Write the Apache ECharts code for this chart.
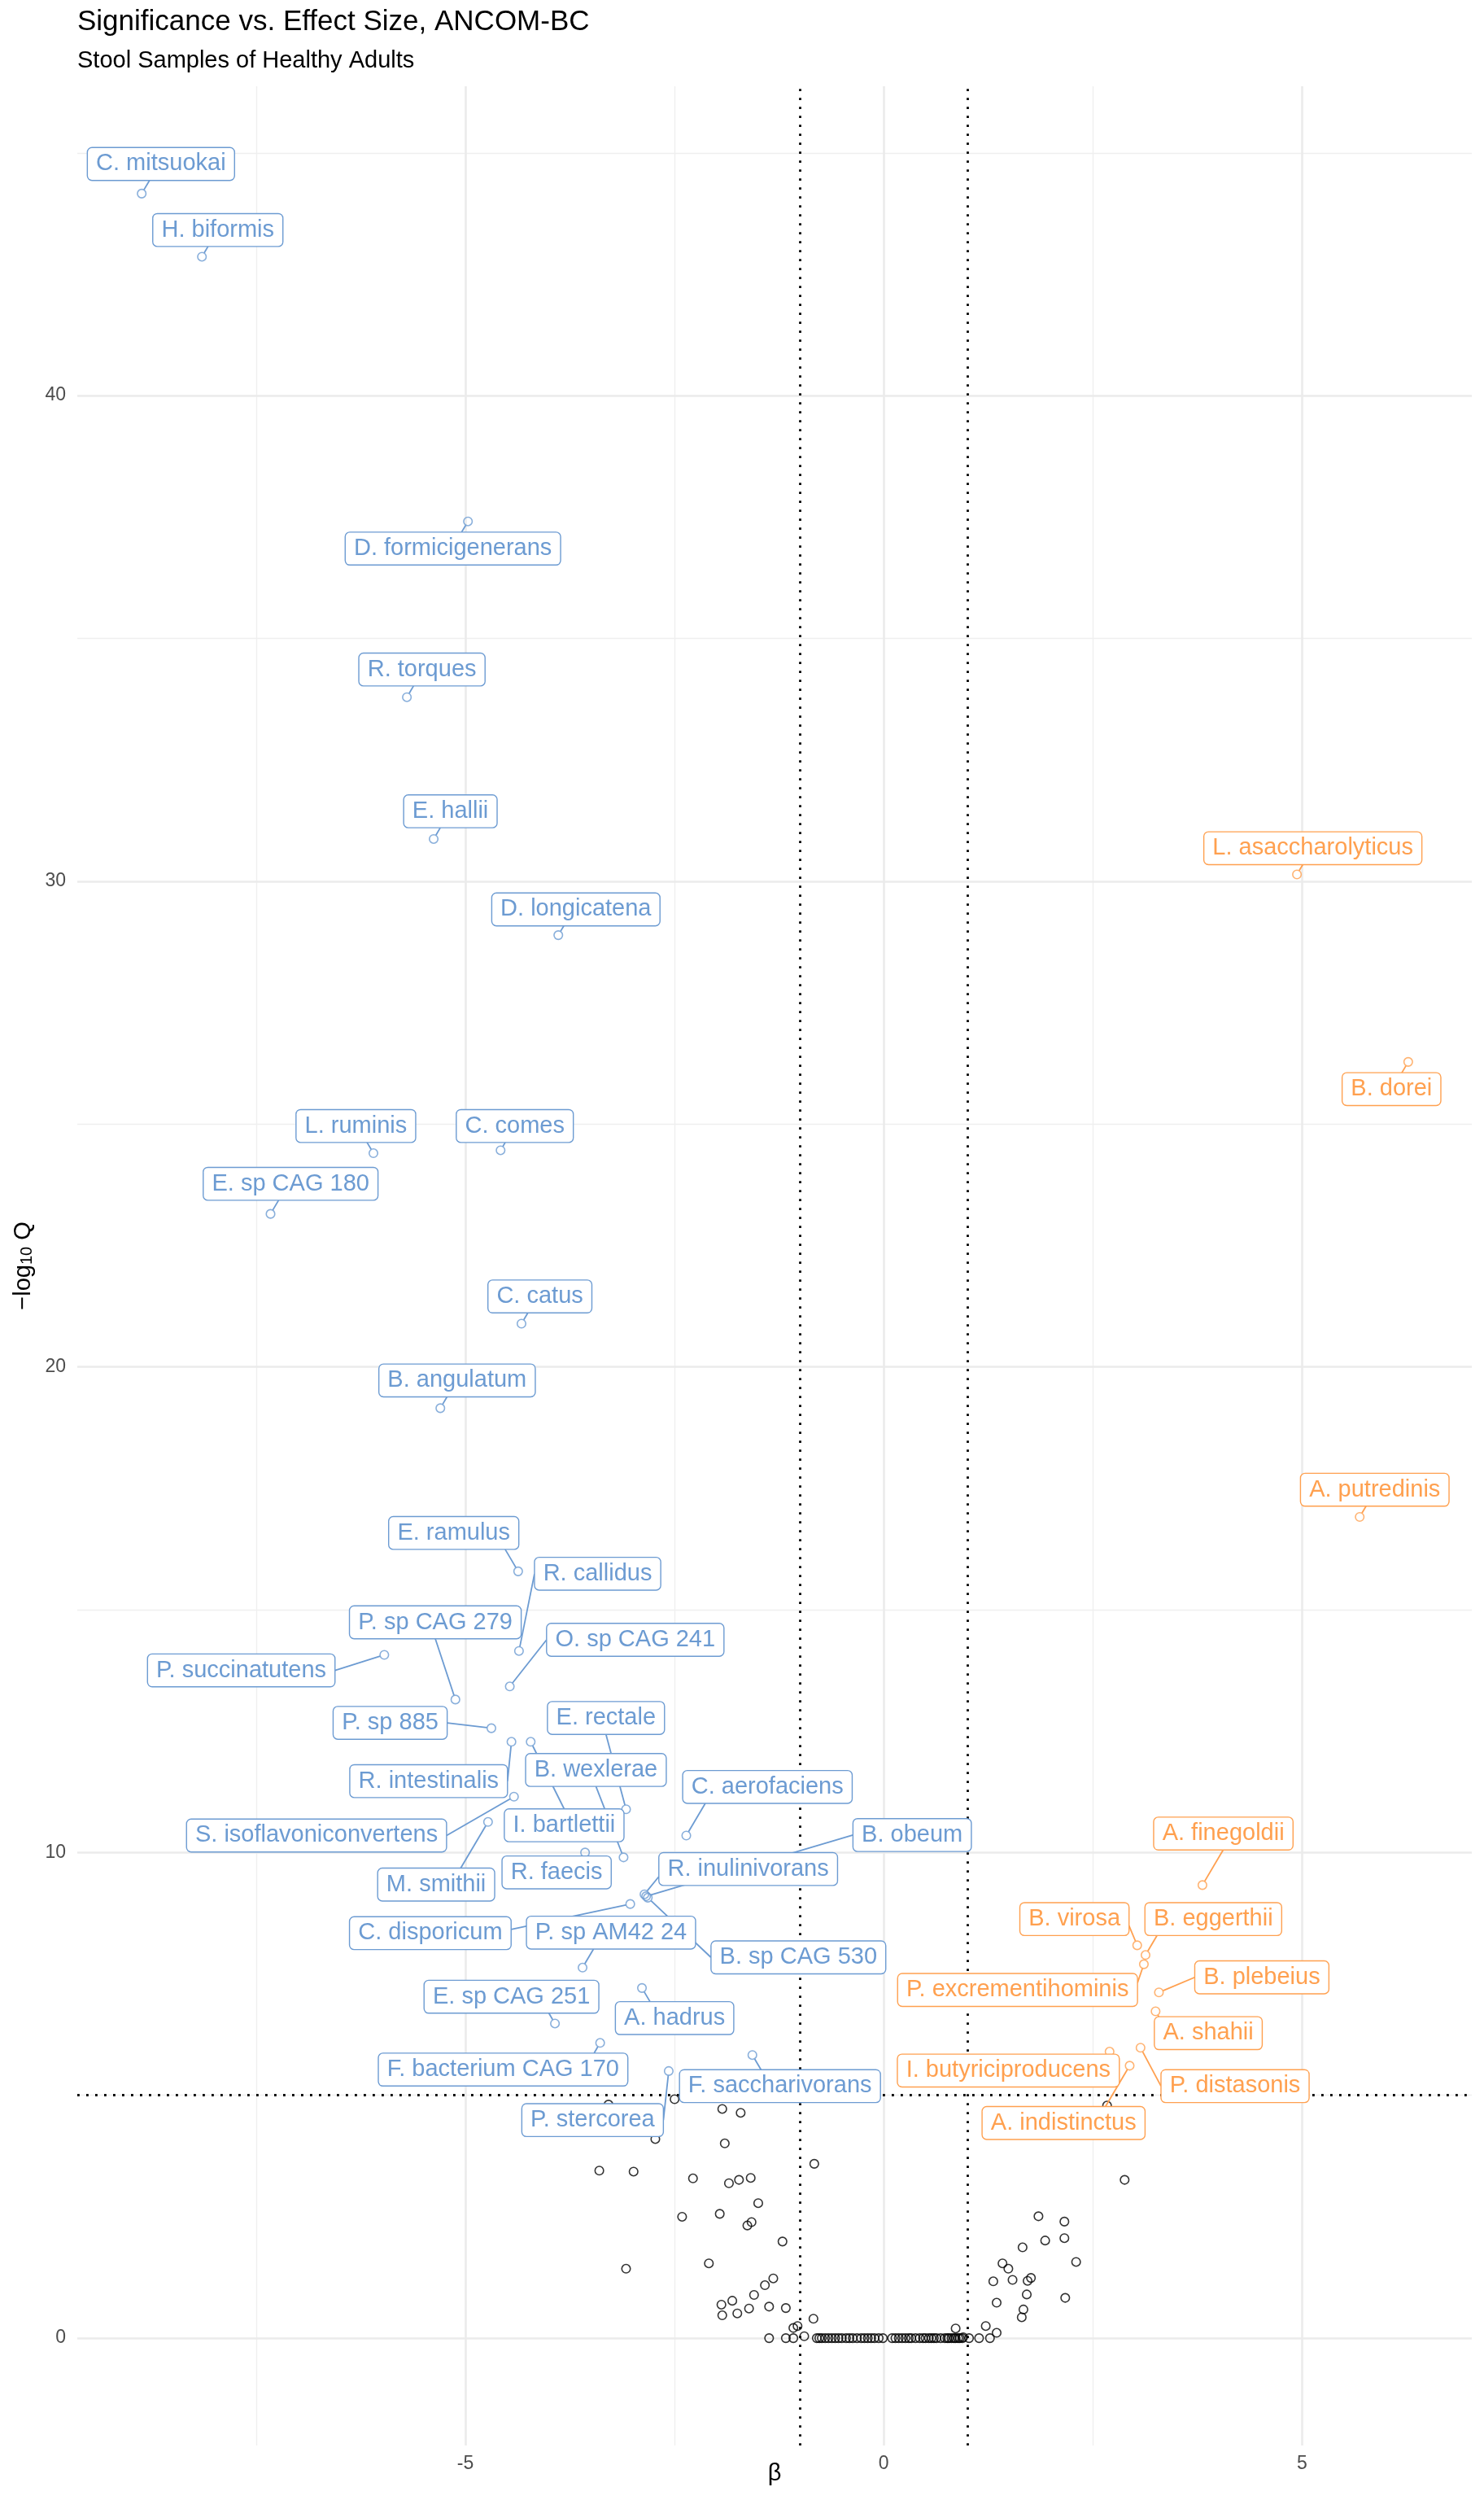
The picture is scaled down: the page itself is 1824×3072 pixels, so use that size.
<!DOCTYPE html>
<html>
<head>
<meta charset="utf-8">
<title>Significance vs. Effect Size, ANCOM-BC</title>
<script src="https://cdn.jsdelivr.net/npm/echarts@6/dist/echarts.min.js"></script>
<style>
  html, body { margin: 0; padding: 0; background: #fff; }
  #chart { width: 1824px; height: 3072px; }
</style>
</head>
<body>
<div id="chart"></div>
<script>
  const FONT = '"Liberation Sans", Arial, Helvetica, sans-serif';
  const BLUE = "#6C9BD2";
  const ORANGE = "#FFA04F";

  // axis breaks
  const betaTicks = [-5, 0, 5];
  const betaMinor = [-7.5, -2.5, 2.5];
  const qTicks = [0, 10, 20, 30, 40];
  const qMinor = [5, 15, 25, 35, 45];
  const betaCut = [-1, 1];
  const qCut = 5;

  // significant, lower abundance (blue)
  const blueNames = [
    "C. mitsuokai", "H. biformis", "D. formicigenerans", "R. torques", "E. hallii",
    "D. longicatena", "L. ruminis", "C. comes", "E. sp CAG 180", "C. catus",
    "B. angulatum", "E. ramulus", "R. callidus", "P. sp CAG 279", "O. sp CAG 241",
    "P. succinatutens", "P. sp 885", "E. rectale", "R. intestinalis", "B. wexlerae",
    "S. isoflavoniconvertens", "I. bartlettii", "C. aerofaciens", "M. smithii", "R. faecis",
    "R. inulinivorans", "B. obeum", "C. disporicum", "P. sp AM42 24", "B. sp CAG 530",
    "E. sp CAG 251", "A. hadrus", "F. bacterium CAG 170", "F. saccharivorans", "P. stercorea"
  ];
  const blueBeta = [
    -8.87, -8.15, -4.97, -5.70, -5.38,
    -3.89, -6.10, -4.58, -7.33, -4.33,
    -5.30, -4.37, -4.36, -5.12, -4.47,
    -5.97, -4.69, -3.08, -4.45, -3.11,
    -4.42, -4.22, -2.36, -4.73, -3.57,
    -2.86, -2.84, -3.03, -3.60, -2.82,
    -3.93, -2.89, -3.39, -1.57, -2.57
  ];
  const blueQ = [
    44.16, 42.86, 37.41, 33.79, 30.87,
    28.89, 24.40, 24.46, 23.15, 20.89,
    19.15, 15.79, 14.15, 13.15, 13.42,
    14.07, 12.56, 10.89, 12.28, 9.90,
    11.15, 12.28, 10.35, 10.63, 10.00,
    9.14, 9.10, 8.94, 7.63, 9.07,
    6.48, 7.21, 6.08, 5.83, 5.50
  ];

  // significant, higher abundance (orange)
  const orangeNames = [
    "L. asaccharolyticus", "B. dorei", "A. putredinis", "A. finegoldii", "B. virosa",
    "B. eggerthii", "P. excrementihominis", "B. plebeius", "A. shahii", "I. butyriciproducens",
    "P. distasonis", "A. indistinctus"
  ];
  const orangeBeta = [4.94, 6.27, 5.69, 3.81, 3.03, 3.13, 3.11, 3.29, 3.25, 2.70, 3.07, 2.94];
  const orangeQ = [30.14, 26.28, 16.91, 9.33, 8.09, 7.89, 7.70, 7.12, 6.73, 5.90, 5.98, 5.61];

  // not significant (black)
  const otherBeta = [
    -3.29, -2.50, -1.93, -1.71, -2.73, -1.90, -0.83, -3.40, -2.99, -2.28,
    -1.85, -1.73, -1.59, -1.50, -2.41, -1.96, -1.58, -1.63, -1.21, -3.08,
    -2.09, -1.32, -1.42, -1.55, -1.94, -1.81, -1.61, -1.37, -1.17, -1.93,
    -1.75, -0.84, -1.08, -1.03, -1.37, -1.17, -1.08, -0.95,
    2.67, 2.88, 1.85, 2.16, 1.93, 2.16, 1.66, 2.30, 1.42, 1.49,
    1.31, 1.54, 1.72, 1.76, 1.71, 2.17, 1.35, 1.67, 1.65, 1.22,
    1.35, 0.86, 0.95, 1.02, 1.14, 1.27,
    -0.80, -0.77, -0.74, -0.70, -0.66, -0.62, -0.58, -0.54, -0.50, -0.45,
    -0.41, -0.37, -0.32, -0.27, -0.23, -0.19, -0.15, -0.11, -0.06, -0.01,
    0.10, 0.14, 0.18, 0.22, 0.26, 0.30, 0.33, 0.38, 0.43, 0.47,
    0.50, 0.54, 0.57, 0.60, 0.63, 0.68, 0.73, 0.76, 0.78, 0.81,
    0.84, 0.86, 0.89, 0.91, 0.94
  ];
  const otherQ = [
    4.81, 4.92, 4.72, 4.64, 4.10, 4.01, 3.59, 3.45, 3.43, 3.29,
    3.19, 3.26, 3.30, 2.78, 2.50, 2.56, 2.39, 2.32, 1.99, 1.43,
    1.54, 1.23, 1.09, 0.89, 0.69, 0.77, 0.61, 0.65, 0.62, 0.47,
    0.51, 0.40, 0.21, 0.25, 0, 0, 0, 0.04,
    4.79, 3.26, 2.51, 2.40, 2.01, 2.06, 1.87, 1.57, 1.54, 1.43,
    1.17, 1.20, 1.18, 1.24, 0.90, 0.83, 0.73, 0.59, 0.43, 0.25,
    0.11, 0.20, 0.02, 0, 0, 0,
    0, 0, 0, 0, 0, 0, 0, 0, 0, 0,
    0, 0, 0, 0, 0, 0, 0, 0, 0, 0,
    0, 0, 0, 0, 0, 0, 0, 0, 0, 0,
    0, 0, 0, 0, 0, 0, 0, 0, 0, 0,
    0, 0, 0, 0, 0
  ];

  // where the repelled labels sit (label centre, in axis units)
  const blueLabelAt = [
    [-8.64, 44.77], [-7.96, 43.41], [-5.15, 36.85], [-5.52, 34.36], [-5.18, 31.44],
    [-3.68, 29.42], [-6.31, 24.96], [-4.41, 24.96], [-7.09, 23.77], [-4.11, 21.45],
    [-5.10, 19.72], [-5.14, 16.58], [-3.42, 15.74], [-5.36, 14.74], [-2.97, 14.38],
    [-7.68, 13.75], [-5.90, 12.67], [-3.32, 12.77], [-5.44, 11.47], [-3.44, 11.70],
    [-6.78, 10.35], [-3.82, 10.56], [-1.39, 11.35], [-5.35, 9.34], [-3.91, 9.59],
    [-1.62, 9.66], [0.34, 10.36], [-5.42, 8.34], [-3.26, 8.35], [-1.02, 7.84],
    [-4.45, 7.03], [-2.50, 6.59], [-4.55, 5.53], [-1.24, 5.19], [-3.48, 4.49]
  ];
  const orangeLabelAt = [
    [5.13, 30.68], [6.07, 25.72], [5.87, 17.47], [4.06, 10.39], [2.28, 8.63],
    [3.94, 8.63], [1.60, 7.17], [4.52, 7.43], [3.88, 6.28], [1.49, 5.51],
    [4.20, 5.19], [2.15, 4.43]
  ];

  const xMin = -9.64, xMax = 7.03;
  const yMin = -2.21, yMax = 46.37;

  const LABEL_SIZE = 29;
  const LABEL_PAD = [5, 10, 5, 10];
  const LABEL_BORDER = 1.4;
  const POINT_R = 5.5;

  const measureCtx = document.createElement("canvas").getContext("2d");
  measureCtx.font = LABEL_SIZE + "px " + FONT;

  function boxSize(name) {
    return [
      measureCtx.measureText(name).width + LABEL_PAD[1] + LABEL_PAD[3] + LABEL_BORDER,
      LABEL_SIZE + LABEL_PAD[0] + LABEL_PAD[2] + LABEL_BORDER
    ];
  }

  // where a repel segment meets its box: nearest edge, nudged toward the middle
  function segmentEnd(p, c, size, panel) {
    const left = c[0] - size[0] / 2;
    const right = c[0] + size[0] / 2;
    const top = c[1] - size[1] / 2;
    const bottom = c[1] + size[1] / 2;
    let ox = p[0], oy = p[1], side = 0, edge = 0;
    if (p[0] < left) { ox = left; side = 1; } else if (p[0] > right) { ox = right; side = 1; }
    if (p[1] < top) { oy = top; edge = 1; } else if (p[1] > bottom) { oy = bottom; edge = 1; }
    if (!side && !edge) return null;
    if (edge && !side) {
      const d = (Math.abs(p[1] - oy) / panel.height) * panel.width;
      const shift = c[0] - ox;
      ox += Math.sign(shift) * Math.min(Math.abs(shift), d);
    } else if (side && !edge) {
      const d = (Math.abs(p[0] - ox) / panel.width) * panel.height;
      const shift = c[1] - oy;
      oy += Math.sign(shift) * Math.min(Math.abs(shift), d);
    } else {
      const shift = c[1] - oy;
      oy += Math.sign(shift) * Math.min(Math.abs(shift), Math.abs(p[1] - oy));
    }
    return [ox, oy];
  }

  function pairs(xs, ys) {
    return xs.map((x, i) => [x, ys[i]]);
  }

  function pointSeries(xs, ys, color) {
    return {
      type: "scatter",
      data: pairs(xs, ys),
      symbol: "circle",
      symbolSize: 10.5,
      itemStyle: { color: "rgba(0,0,0,0)", borderColor: color, borderWidth: 1.6 },
      emphasis: { disabled: true },
      silent: true,
      z: 2
    };
  }

  function labelData(xs, ys, spots) {
    return xs.map((x, i) => [x, ys[i], spots[i][0], spots[i][1]]);
  }

  function segmentSeries(xs, ys, spots, names, color) {
    return {
      type: "custom",
      silent: true,
      z: 3,
      data: labelData(xs, ys, spots),
      encode: { x: [0, 2], y: [1, 3] },
      renderItem: (params, api) => {
        const p = api.coord([api.value(0), api.value(1)]);
        const c = api.coord([api.value(2), api.value(3)]);
        const end = segmentEnd(p, c, boxSize(names[params.dataIndex]), params.coordSys);
        if (!end) return null;
        const dx = end[0] - p[0];
        const dy = end[1] - p[1];
        const d = Math.hypot(dx, dy);
        if (d < POINT_R + 1) return null;
        return {
          type: "line",
          shape: { x1: p[0] + (dx / d) * POINT_R, y1: p[1] + (dy / d) * POINT_R, x2: end[0], y2: end[1] },
          style: { stroke: color, lineWidth: 1.8 }
        };
      }
    };
  }

  function boxSeries(xs, ys, spots, names, color) {
    return {
      type: "custom",
      silent: true,
      z: 4,
      data: labelData(xs, ys, spots),
      encode: { x: [0, 2], y: [1, 3] },
      renderItem: (params, api) => {
        const c = api.coord([api.value(2), api.value(3)]);
        return {
          type: "text",
          x: c[0],
          y: c[1],
          style: {
            text: names[params.dataIndex],
            fill: color,
            fontSize: LABEL_SIZE,
            fontFamily: FONT,
            align: "center",
            verticalAlign: "middle",
            lineHeight: LABEL_SIZE,
            backgroundColor: "#fff",
            borderColor: color,
            borderWidth: LABEL_BORDER,
            borderRadius: 5,
            padding: LABEL_PAD
          }
        };
      }
    };
  }

  const major = { color: "#EBEBEB", width: 2.6, type: "solid" };
  const minor = { color: "#EFEFEF", width: 1.4, type: "solid" };
  const dotted = { color: "#000", width: 2.8, type: [2.8, 8.2], cap: "butt" };

  const gridLines = [
    ...betaMinor.map((v) => ({ xAxis: v, lineStyle: minor })),
    ...qMinor.map((v) => ({ yAxis: v, lineStyle: minor })),
    ...betaTicks.map((v) => ({ xAxis: v, lineStyle: major })),
    ...qTicks.map((v) => ({ yAxis: v, lineStyle: major })),
    ...betaCut.map((v) => ({ xAxis: v, lineStyle: dotted })),
    { yAxis: qCut, lineStyle: dotted }
  ];

  const blackPoints = pointSeries(otherBeta, otherQ, "#000");
  blackPoints.markLine = {
    silent: true,
    z: 1,
    animation: false,
    symbol: ["none", "none"],
    label: { show: false },
    emphasis: { disabled: true },
    data: gridLines
  };

  const chart = echarts.init(document.getElementById("chart"), null, { renderer: "canvas" });
  chart.setOption({
    animation: false,
    backgroundColor: "#fff",
    textStyle: { fontFamily: FONT },
    title: [
      {
        text: "Significance vs. Effect Size, ANCOM-BC",
        left: 95,
        top: 10,
        padding: 0,
        textStyle: { fontSize: 35, fontWeight: "normal", color: "#000", fontFamily: FONT }
      },
      {
        text: "Stool Samples of Healthy Adults",
        left: 95,
        top: 60,
        padding: 0,
        textStyle: { fontSize: 29, fontWeight: "normal", color: "#000", fontFamily: FONT }
      }
    ],
    grid: { left: 95, right: 15, top: 106, bottom: 67, containLabel: false, outerBoundsMode: "none" },
    xAxis: {
      type: "value",
      min: xMin,
      max: xMax,
      name: "β",
      nameLocation: "middle",
      nameGap: 20,
      nameMoveOverlap: false,
      nameTextStyle: { fontSize: 29, color: "#000", fontFamily: FONT },
      axisLine: { show: false },
      axisTick: { show: false },
      splitLine: { show: false },
      axisLabel: { customValues: betaTicks, fontSize: 23, color: "#4D4D4D", margin: 11, fontFamily: FONT }
    },
    yAxis: {
      type: "value",
      min: yMin,
      max: yMax,
      name: "−log{s|10} Q",
      nameLocation: "middle",
      nameRotate: 90,
      nameGap: 52,
      nameMoveOverlap: false,
      nameTextStyle: {
        fontSize: 29,
        color: "#000",
        fontFamily: FONT,
        rich: {
          s: { fontSize: 20, lineHeight: 14, verticalAlign: "bottom", color: "#000", fontFamily: FONT }
        }
      },
      axisLine: { show: false },
      axisTick: { show: false },
      splitLine: { show: false },
      axisLabel: { customValues: qTicks, fontSize: 23, color: "#4D4D4D", margin: 14, fontFamily: FONT }
    },
    series: [
      blackPoints,
      pointSeries(blueBeta, blueQ, BLUE),
      pointSeries(orangeBeta, orangeQ, ORANGE),
      segmentSeries(blueBeta, blueQ, blueLabelAt, blueNames, BLUE),
      segmentSeries(orangeBeta, orangeQ, orangeLabelAt, orangeNames, ORANGE),
      boxSeries(blueBeta, blueQ, blueLabelAt, blueNames, BLUE),
      boxSeries(orangeBeta, orangeQ, orangeLabelAt, orangeNames, ORANGE)
    ]
  });
</script>
</body>
</html>
